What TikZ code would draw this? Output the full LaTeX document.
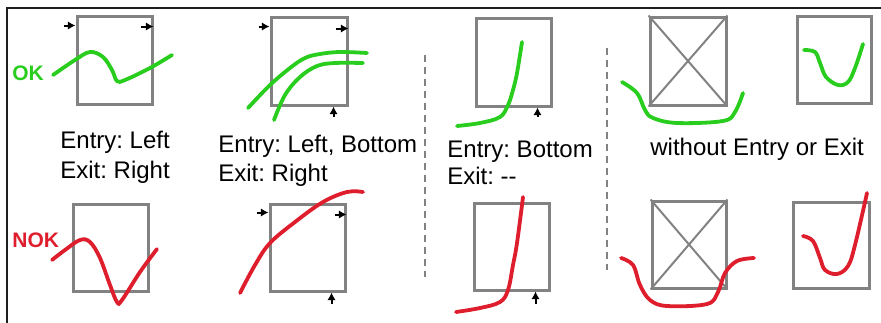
\documentclass[tikz,border=0pt]{standalone}
\usepackage{fontspec}
\setmainfont{Liberation Sans}
\usepackage{tikz}
\usetikzlibrary{arrows.meta, calc, fit}
\definecolor{okgreen}{RGB}{40,205,30}
\definecolor{nokred}{RGB}{222,30,45}
\definecolor{boxgray}{RGB}{130,130,130}
\definecolor{framedark}{RGB}{30,30,30}
\frenchspacing

\begin{document}
\begin{tikzpicture}[x=0.5pt, y=-0.5pt,
    every node/.style={font=\fontsize{12}{14}\selectfont},
    panelbox/.style={
        draw=boxgray, line width=1.5pt, inner sep=0pt,
    },
    crossline/.style={draw=boxgray, line width=1pt},
    okpath/.style={
        draw=okgreen, line width=1.9pt, line cap=round,
    },
    nokpath/.style={
        draw=nokred, line width=1.9pt, line cap=round,
    },
    flowmark/.style={
        draw=black, line width=1pt,
        -{Latex[length=3.8pt, width=4.2pt]},
    },
    caption/.style={anchor=base west, inner sep=0pt},
    verdict/.style={
        anchor=base west, inner sep=0pt,
        font=\fontsize{10.5}{12}\selectfont\bfseries,
    },
    divider/.style={
        draw=boxgray, line width=1pt, dash pattern=on 3.5pt off 2.5pt,
    },
]
\useasboundingbox (0,0) rectangle (881,322);

% ── Frame ──────────────────────────────────────────────────────────────
\draw[framedark, line width=1pt] (7,330) -- (7,8) -- (890,8);

% ── Verdict tags ───────────────────────────────────────────────────────
\node[verdict, text=okgreen] (okTag) at (12,80) {OK};
\node[verdict, text=nokred] (nokTag) at (12,247) {NOK};

% ── Panel A: entry left, exit right ────────────────────────────────────
\node[panelbox, fit={(77,16) (152,104)}] (okA) {};
\draw[flowmark] ($(okA.north west)+(-12,11)$) -- ($(okA.north west)+(0,11)$);
\draw[flowmark] ($(okA.north east)+(-13,12)$) -- ($(okA.north east)+(0,12)$);
\draw[okpath] plot[smooth, tension=0.6] coordinates {
    (53,75) (75,60) (90,52) (103,57) (112,70) (117,81) (125,80) (150,68) (172,55)};

\node[caption] (capA1) at (60,148) {Entry: Left};
\node[caption] (capA2) at (60,178) {Exit: Right};

\node[panelbox, fit={(73,204) (148,291)}] (nokA) {};
\draw[nokpath] plot[smooth, tension=0.6] coordinates {
    (52,260) (65,250) (80,240) (90,242) (100,258) (110,285) (117,302) (122,300) (140,272) (157,249)};

% ── Panel B: entry left and bottom, exit right ─────────────────────────
\node[panelbox, fit={(271,17) (347,105)}] (okB) {};
\draw[flowmark] ($(okB.north west)+(-11,11)$) -- ($(okB.north west)+(0,11)$);
\draw[flowmark] ($(okB.north east)+(-13,13)$) -- ($(okB.north east)+(0,13)$);
\draw[flowmark] ($(okB.south east)+(-15,10)$) -- ($(okB.south east)+(-15,0)$);
\draw[okpath] plot[smooth, tension=0.6] coordinates {
    (248,108) (270,85) (290,68) (305,58) (320,54) (340,52) (367,53)};
\draw[okpath] plot[smooth, tension=0.6] coordinates {
    (274,120) (285,95) (300,77) (317,66) (335,63) (363,63)};

\node[caption] (capB1) at (218,152) {Entry: Left, Bottom};
\node[caption] (capB2) at (218,181) {Exit: Right};

\node[panelbox, fit={(270,204) (345,291)}] (nokB) {};
\draw[flowmark] ($(nokB.north west)+(-12,10)$) -- ($(nokB.north west)+(0,10)$);
\draw[flowmark] ($(nokB.north east)+(-12,12)$) -- ($(nokB.north east)+(0,12)$);
\draw[flowmark] ($(nokB.south east)+(-15,11)$) -- ($(nokB.south east)+(-15,0)$);
\draw[nokpath] plot[smooth, tension=0.6] coordinates {
    (240,293) (255,265) (270,243) (295,222) (323,202) (347,192) (363,192)};

\draw[divider] (425,55) -- (425,277);

% ── Panel C: entry bottom, no exit ─────────────────────────────────────
\node[panelbox, fit={(476,18) (551,106)}] (okC) {};
\draw[flowmark] ($(okC.south east)+(-15,9)$) -- ($(okC.south east)+(-15,0)$);
\draw[okpath] plot[smooth, tension=0.6] coordinates {
    (457,126) (480,123) (500,117) (508,105) (513,90) (517,73) (522,42)};

\node[caption] (capC1) at (447,157) {Entry: Bottom};
\node[caption] (capC2) at (447,184) {Exit: {-}{-}};

\node[panelbox, fit={(474,203) (549,290)}] (nokC) {};
\draw[flowmark] ($(nokC.south east)+(-15,12)$) -- ($(nokC.south east)+(-15,0)$);
\draw[nokpath] plot[smooth, tension=0.6] coordinates {
    (456,312) (480,308) (500,302) (508,290) (513,265) (517,243) (523,197)};

\draw[divider] (607,48) -- (607,270);

% ── Panel D: no entry, no exit ─────────────────────────────────────────
\node[panelbox, fit={(650,17) (726,105)}] (okD) {};
\draw[crossline] (okD.north west) -- (okD.south east)
                 (okD.north east) -- (okD.south west);
\draw[okpath] plot[smooth, tension=0.6] coordinates {
    (622,82) (637,93) (645,110) (653,118) (677,123) (723,121) (735,112) (743,93)};

\node[panelbox, fit={(797,16) (871,103)}] (okE) {};
\draw[okpath] plot[smooth, tension=0.6] coordinates {
    (804,50) (815,52) (820,63) (826,77) (838,85) (848,82) (855,68) (863,44)};

\node[caption] (capD) at (650,155) {without Entry or Exit};

\node[panelbox, fit={(652,201) (726,288)}] (nokD) {};
\draw[crossline] (nokD.north west) -- (nokD.south east)
                 (nokD.north east) -- (nokD.south west);
\draw[nokpath] plot[smooth, tension=0.6] coordinates {
    (621,258) (633,265) (640,285) (650,300) (667,306) (707,304) (718,292) (725,273) (737,261) (754,258)};

\node[panelbox, fit={(793,202) (869,288)}] (nokE) {};
\draw[nokpath] plot[smooth, tension=0.6] coordinates {
    (803,236) (813,241) (820,258) (825,270) (837,274) (848,266) (855,245) (867,193)};

\end{tikzpicture}
\end{document}
